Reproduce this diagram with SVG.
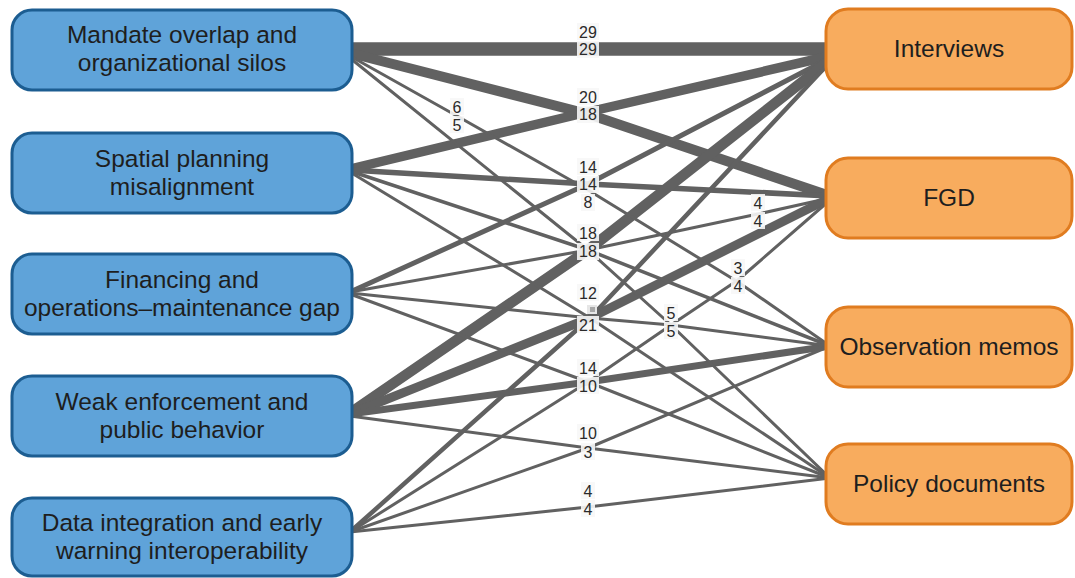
<svg xmlns="http://www.w3.org/2000/svg" width="1075" height="578" viewBox="0 0 1075 578">
<style>
.e{fill:none;stroke:#616161;stroke-linejoin:round;stroke-linecap:butt}
.ln{fill:#5fa3d9;stroke:#1c5d91;stroke-width:3}
.rn{fill:#f8ac5e;stroke:#e07c20;stroke-width:3}
.nt{font-family:"Liberation Sans",Arial,sans-serif;font-size:24.5px;fill:#1e1e1e;text-anchor:middle}
.lb{font-family:"Liberation Sans",Arial,sans-serif;font-size:16px;fill:#2a2a2a;text-anchor:middle}
.bx{fill:#f7f7f7;fill-opacity:0.9}
</style>
<rect width="1075" height="578" fill="#ffffff"/>
<g id="connectors">
<path class="e" stroke-width="13.5" d="M350,49 L830,49"/>
<path class="e" stroke-width="10" d="M350,53 L588,114 L830,196"/>
<path class="e" stroke-width="9.5" d="M350,169 L588,112 L830,56"/>
<path class="e" stroke-width="5" d="M350,292 L588,184 L830,58"/>
<path class="e" stroke-width="5.5" d="M350,170 L588,184 L830,196"/>
<path class="e" stroke-width="10.5" d="M350,413 L588,250 L830,60"/>
<path class="e" stroke-width="3" d="M350,292 L588,250 L758,214 L830,198"/>
<path class="e" stroke-width="9" d="M350,414 L590,318 L830,198"/>
<path class="e" stroke-width="4.5" d="M350,532 L590,318 L830,62"/>
<path class="e" stroke-width="3" d="M350,532 L588,382 L671,325 L738,280 L830,200"/>
<path class="e" stroke-width="7" d="M350,414 L588,382 L830,346"/>
<path class="e" stroke-width="3" d="M350,532 L588,448 L830,346"/>
<path class="e" stroke-width="3" d="M350,416 L588,448 L830,478"/>
<path class="e" stroke-width="3" d="M350,532 L588,507 L830,478"/>
<path class="e" stroke-width="3" d="M350,56 L457,116 L588,190 L738,282 L830,346"/>
<path class="e" stroke-width="3.5" d="M350,171 L588,250 L830,346"/>
<path class="e" stroke-width="3" d="M350,293 L590,318 L671,325 L830,346"/>
<path class="e" stroke-width="3" d="M350,58 L588,250 L671,325 L830,478"/>
<path class="e" stroke-width="3" d="M350,172 L590,318 L830,478"/>
<path class="e" stroke-width="3" d="M350,294 L588,382 L830,478"/>
</g>
<g id="edge-labels">
<rect class="bx" x="577" y="23" width="22" height="17"/><text class="lb" x="588" y="38">29</text>
<rect class="bx" x="577" y="41" width="22" height="17"/><text class="lb" x="588" y="55">29</text>
<rect class="bx" x="577" y="88" width="22" height="17"/><text class="lb" x="588" y="103">20</text>
<rect class="bx" x="577" y="106" width="22" height="17"/><text class="lb" x="588" y="120">18</text>
<rect class="bx" x="450" y="98" width="14" height="17"/><text class="lb" x="457" y="113">6</text>
<rect class="bx" x="450" y="116" width="14" height="17"/><text class="lb" x="457" y="131">5</text>
<rect class="bx" x="577" y="158" width="22" height="17"/><text class="lb" x="588" y="173">14</text>
<rect class="bx" x="577" y="176" width="22" height="17"/><text class="lb" x="588" y="190">14</text>
<rect class="bx" x="581" y="194" width="14" height="17"/><text class="lb" x="588" y="208">8</text>
<rect class="bx" x="577" y="224" width="22" height="17"/><text class="lb" x="588" y="239">18</text>
<rect class="bx" x="577" y="243" width="22" height="17"/><text class="lb" x="588" y="257">18</text>
<rect class="bx" x="751" y="194" width="14" height="17"/><text class="lb" x="758" y="209">4</text>
<rect class="bx" x="751" y="212" width="14" height="17"/><text class="lb" x="758" y="227">4</text>
<rect class="bx" x="731" y="259" width="14" height="17"/><text class="lb" x="738" y="274">3</text>
<rect class="bx" x="731" y="277" width="14" height="17"/><text class="lb" x="738" y="292">4</text>
<rect class="bx" x="577" y="284" width="22" height="17"/><text class="lb" x="588" y="299">12</text>
<rect x="587" y="305" width="10" height="9" fill="#e6e6e6"/><rect x="590" y="307" width="5" height="5" fill="#a8a8a8"/>
<rect class="bx" x="577" y="316" width="22" height="17"/><text class="lb" x="588" y="331">21</text>
<rect class="bx" x="664" y="304" width="14" height="17"/><text class="lb" x="671" y="319">5</text>
<rect class="bx" x="664" y="322" width="14" height="17"/><text class="lb" x="671" y="337">5</text>
<rect class="bx" x="577" y="359" width="22" height="17"/><text class="lb" x="588" y="374">14</text>
<rect class="bx" x="577" y="377" width="22" height="17"/><text class="lb" x="588" y="392">10</text>
<rect class="bx" x="577" y="424" width="22" height="17"/><text class="lb" x="588" y="439">10</text>
<rect class="bx" x="581" y="443" width="14" height="17"/><text class="lb" x="588" y="458">3</text>
<rect class="bx" x="581" y="482" width="14" height="17"/><text class="lb" x="588" y="497">4</text>
<rect class="bx" x="581" y="500" width="14" height="17"/><text class="lb" x="588" y="515">4</text>
</g>
<g id="n-mandate"><rect class="ln" x="12" y="10" width="340" height="80" rx="20"/><text class="nt" x="182" y="43">Mandate overlap and</text><text class="nt" x="182" y="71">organizational silos</text></g>
<g id="n-spatial"><rect class="ln" x="12" y="133" width="340" height="80" rx="20"/><text class="nt" x="182" y="167">Spatial planning</text><text class="nt" x="182" y="195">misalignment</text></g>
<g id="n-financing"><rect class="ln" x="12" y="254" width="340" height="80" rx="20"/><text class="nt" x="182" y="288">Financing and</text><text class="nt" x="182" y="316">operations–maintenance gap</text></g>
<g id="n-enforcement"><rect class="ln" x="12" y="376" width="340" height="80" rx="20"/><text class="nt" x="182" y="410">Weak enforcement and</text><text class="nt" x="182" y="438">public behavior</text></g>
<g id="n-data"><rect class="ln" x="12" y="498" width="340" height="78" rx="20"/><text class="nt" x="182" y="531">Data integration and early</text><text class="nt" x="182" y="559">warning interoperability</text></g>
<g id="n-interviews"><rect class="rn" x="826" y="9" width="246" height="80" rx="22"/><text class="nt" x="949" y="57">Interviews</text></g>
<g id="n-fgd"><rect class="rn" x="826" y="158" width="246" height="80" rx="22"/><text class="nt" x="949" y="206">FGD</text></g>
<g id="n-observation"><rect class="rn" x="826" y="307" width="246" height="80" rx="22"/><text class="nt" x="949" y="355">Observation memos</text></g>
<g id="n-policy"><rect class="rn" x="826" y="444" width="246" height="80" rx="22"/><text class="nt" x="949" y="492">Policy documents</text></g>
</svg>
